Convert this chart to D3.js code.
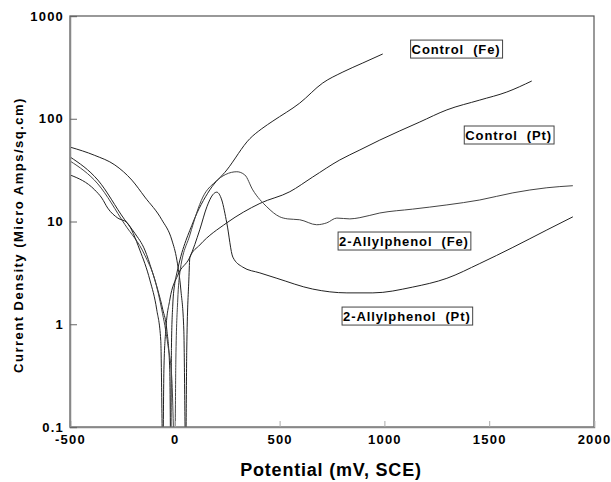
<!DOCTYPE html>
<html><head><meta charset="utf-8">
<script src="https://cdn.jsdelivr.net/npm/d3@7"></script>
<style>body{margin:0;background:#fff}svg{display:block}</style>
</head><body><svg id="c" width="611" height="482"></svg>
<script>
// Tick labels
const xTicks = [-500, 0, 500, 1000, 1500, 2000];
const yTicks = [0.1, 1, 10, 100, 1000];

// Series: [potential mV, current density µA/sq.cm]
const controlFe = [
  [-500,42.5],[-367,25.3],[-239,10.4],[-191,7.7],[-143,5.28],[-110,3.37],[-81,2.15],[-57,1.38],[-38,0.88],[-24,0.36],[-19,0.05],
  [-16,0.6],[-10,1.5],[0,2.5],[10,3.16],[86,9.7],[167,20.3],[248,31.7],[358,64],[415,80],[468,95],[596,142],[706,223],[802,285],[897,349],[992,427]
];
const controlPt = [
  [-500,53],[-382,44],[-286,35.5],[-205,25.3],[-143,17.3],[-62,10.4],[-14,6.6],[10,4.2],[29,2.15],[43,0.88],[52,0.05],
  [57,0.56],[67,2.7],[72,4.5],[119,5.9],[248,9.7],[406,15.0],[549,19.5],[658,27.1],[787,39.7],[883,49.7],[978,62],[1169,93],[1298,122],[1455,152],[1584,182],[1703,233]
];
const allylFe = [
  [-500,38.8],[-367,23.2],[-239,9.4],[-143,4.7],[-95,2.7],[-62,1.38],[-33,0.63],[-14,0.29],[0,0.05],
  [5,0.45],[14,1.72],[24,3.16],[72,7.4],[134,17.3],[191,24.1],[296,30.5],[334,28.4],[372,20.3],[439,13.9],[501,11.1],[539,10.6],
  [596,10.4],[677,9.3],[725,9.7],[773,10.8],[835,10.6],[883,10.9],[978,12.1],[1135,13.2],[1298,14.5],[1455,16.2],[1613,19.0],[1775,21.3],[1899,22.3]
];
const allylPt = [
  [-500,28.4],[-382,20.3],[-348,16.9],[-320,13.5],[-272,10.8],[-229,9.8],[-167,5.28],[-119,2.7],[-86,1.38],[-67,0.70],[-57,0.05],
  [-52,0.36],[-43,0.88],[-24,1.72],[14,3.0],[72,4.5],[119,8.3],[153,13.9],[181,18.2],[200,19.3],[224,16.2],[248,9.7],[277,4.5],[324,3.6],[406,3.16],[487,2.8],
  [658,2.2],[821,2.02],[945,2.02],[1135,2.3],[1298,2.8],[1455,3.9],[1613,5.6],[1775,8.27],[1899,11.1]
];
const seriesList = [controlFe, controlPt, allylFe, allylPt];
const seriesColors = ["#222", "#222", "#444", "#222"];

// Boxed labels: text and box top-left anchor (potential, current)
const labelTexts = ["Control (Fe)", "Control (Pt)", "2-Allylphenol (Fe)", "2-Allylphenol (Pt)"];
const labelAnchors = [[1125, 583], [1381, 85], [779, 7.9], [798, 1.47]];

const svg = d3.select("#c");
const L = 70, R = 594, T = 16, B = 427;
const x = d3.scaleLinear().domain([-500, 2000]).range([L, R]);
const y = d3.scaleLog().domain([0.1, 1000]).range([B, T]);

svg.append("defs").append("clipPath").attr("id","clip")
  .append("rect").attr("x",L).attr("y",T).attr("width",R-L).attr("height",B-T);

const font = "'Liberation Sans', Arial, Helvetica, sans-serif";

// curves
const line = d3.line().x(d=>x(d[0])).y(d=>y(d[1])).curve(d3.curveMonotoneX);
const g = svg.append("g").attr("clip-path","url(#clip)");
seriesList.forEach((s,i)=>{
  g.append("path").datum(s).attr("d",line).attr("fill","none")
    .attr("stroke",seriesColors[i]).attr("stroke-width",1);
});

// frame
svg.append("rect").attr("x",L).attr("y",T).attr("width",R-L).attr("height",B-T)
  .attr("fill","none").attr("stroke","#555").attr("stroke-width",1.2);

// axes
const xAxis = d3.axisBottom(x).tickValues(xTicks).tickSize(-6).tickPadding(8)
  .tickFormat(d=>String(d));
const gx = svg.append("g").attr("transform",`translate(0,${B})`).call(xAxis);
gx.select(".domain").attr("stroke","#888").attr("stroke-width",1.5);
gx.selectAll(".tick line").attr("stroke","#aaa");
gx.selectAll("text").attr("font-family",font).attr("font-weight","bold").attr("font-size",13)
  .attr("letter-spacing",1.2).attr("fill","#000");

const yAxis = d3.axisLeft(y).tickValues(yTicks).tickSize(-7).tickPadding(6)
  .tickFormat(d=>String(d));
const gy = svg.append("g").attr("transform",`translate(${L},0)`).call(yAxis);
gy.select(".domain").attr("stroke","#888").attr("stroke-width",1.5);
gy.selectAll(".tick line").attr("stroke","#666");
gy.selectAll("text").attr("font-family",font).attr("font-weight","bold").attr("font-size",13)
  .attr("letter-spacing",1.2).attr("fill","#000");

// axis titles
svg.append("text").attr("x",331).attr("y",476).attr("text-anchor","middle")
  .attr("font-family",font).attr("font-weight","bold").attr("font-size",18)
  .attr("letter-spacing",0.8)
  .text("Potential (mV, SCE)");
svg.append("text").attr("transform","translate(23,235) rotate(-90)").attr("text-anchor","middle")
  .attr("font-family",font).attr("font-weight","bold").attr("font-size",13)
  .attr("letter-spacing",1.5)
  .text("Current Density (Micro Amps/sq.cm)");

// labels in boxes
labelTexts.forEach((t,i)=>{
  const ax = x(labelAnchors[i][0]), ay = y(labelAnchors[i][1]);
  const lg = svg.append("g");
  const tx = lg.append("text").attr("x",ax+1).attr("y",ay+13.8)
    .attr("font-family",font).attr("font-weight","bold").attr("font-size",13)
    .attr("letter-spacing",0.9)
    .attr("xml:space","preserve").text(t.replace(" (", "  ("));
  const bb = tx.node().getBBox();
  lg.insert("rect","text").attr("x",ax).attr("y",ay).attr("width",bb.width+3).attr("height",18)
    .attr("fill","#fff").attr("stroke","#444").attr("stroke-width",1);
});
</script></body></html>
